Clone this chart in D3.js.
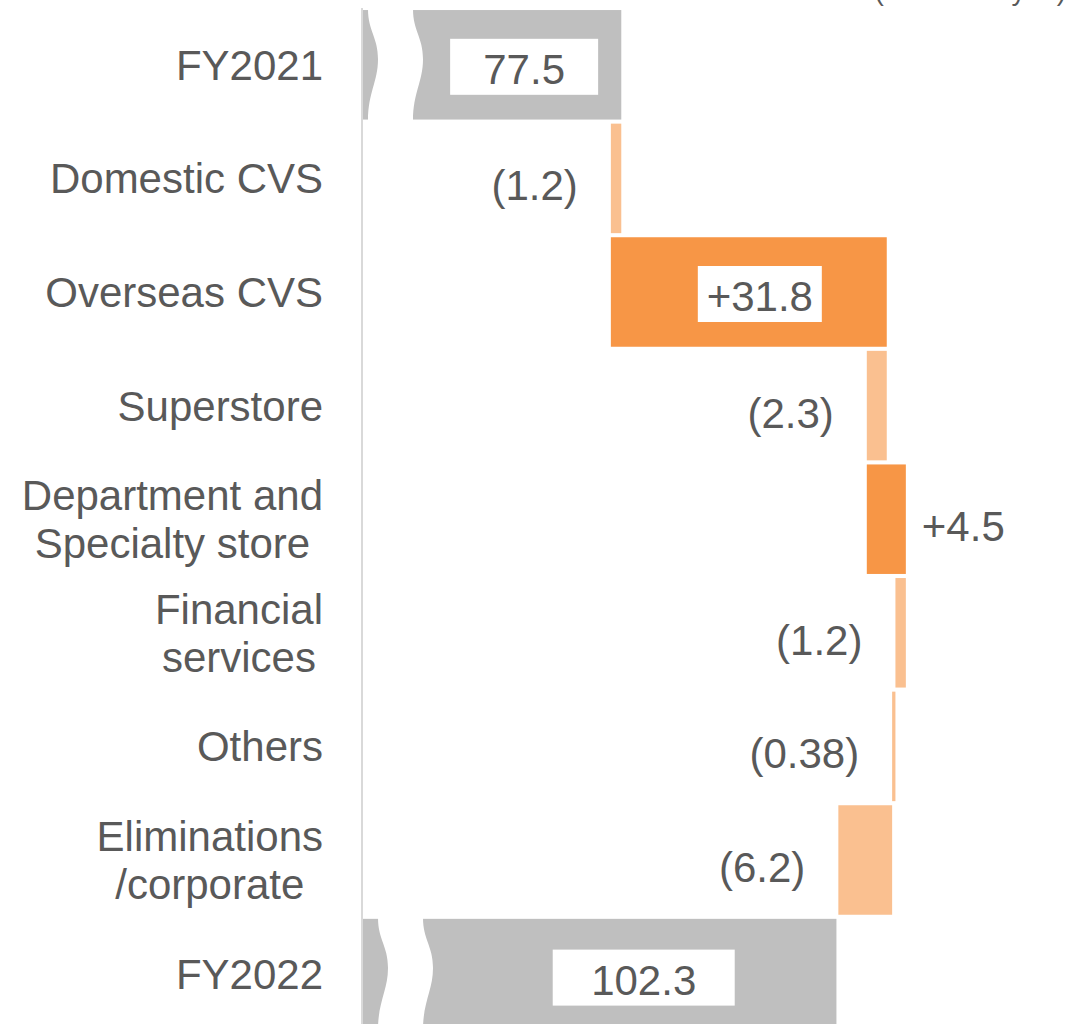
<!DOCTYPE html>
<html>
<head>
<meta charset="utf-8">
<script src="https://cdn.jsdelivr.net/npm/d3@7"></script>
<style>
  html, body { margin: 0; padding: 0; background: #fff; }
  svg { display: block; }
  text { font-family: "Liberation Sans", Arial, sans-serif; fill: #595959; }
</style>
</head>
<body>
<script>
const WIDTH  = 1074;
const HEIGHT = 1024;
const AXIS_X = 361;      // where the (broken) value axis sits
const LABEL_RIGHT = 323; // right edge of the category labels
const FONT = 42;

// Categories (multi-line labels split with \n)
const categories = ["FY2021", "Domestic CVS", "Overseas CVS", "Superstore",
                    "Department and\nSpecialty store", "Financial\nservices", "Others",
                    "Eliminations\n/corporate", "FY2022"];
// true = total bar, false = change
const isTotal = [true, false, false, false, false, false, false, false, true];
// Values in billions of yen
const values  = [77.5, -1.2, 31.8, -2.3, 4.5, -1.2, -0.38, -6.2, 102.3];
// Label text as printed
const valueLabels = ["77.5", "(1.2)", "+31.8", "(2.3)", "+4.5", "(1.2)", "(0.38)", "(6.2)", "102.3"];
const unitLabel = "(Billions of yen)";

// Colours
const GREY     = "#bfbfbf";
const ORANGE   = "#f79646";
const ORANGE_L = "#fac090";

// Labels drawn inside bars get a white box (width per bar index)
const insideBox = { 0: 148, 2: 124, 8: 182 };
const insideDx  = { 0: 2, 2: 11, 8: 9 };
const breakOffset = { 0: 7, 8: 17 };

const svg = d3.select("body").append("svg")
  .attr("width", WIDTH)
  .attr("height", HEIGHT);

// Scales - axis starts at 47.5 (broken)
const xScale = d3.scaleLinear().domain([47.5, 120]).range([AXIS_X, 990]);
const yScale = d3.scaleBand().domain(categories)
  .range([8, 8 + 9 * 113.6])
  .paddingInner(0.036)
  .paddingOuter(0.018);

// Build waterfall segments
let running = 0;
const bars = categories.map((c, i) => {
  let from, to;
  if (isTotal[i]) {
    from = xScale.domain()[0];
    to = values[i];
    running = values[i];
  } else {
    from = running;
    to = running + values[i];
    running = to;
  }
  return { cat: c, i, from, to, value: values[i], label: valueLabels[i], total: isTotal[i] };
});

const bw = yScale.bandwidth();

// Bars
svg.append("g").selectAll("rect")
  .data(bars)
  .join("rect")
    .attr("x", d => xScale(Math.min(d.from, d.to)))
    .attr("y", d => yScale(d.cat))
    .attr("width", d => Math.abs(xScale(d.to) - xScale(d.from)))
    .attr("height", bw)
    .attr("fill", d => d.total ? GREY : (d.value > 0 ? ORANGE : ORANGE_L));

// Axis break - white wavy strip across the total bars
function wave(x0, top, h) {
  const b = 10;
  return `M${x0},${top} C${x0},${top + h * 0.2} ${x0 + b},${top + h * 0.25} ${x0 + b},${top + h * 0.45}`
       + ` C${x0 + b},${top + h * 0.65} ${x0},${top + h * 0.75} ${x0},${top + h}`;
}
function breakPath(x0, top, h) {
  const w = 45, b = 10;
  return wave(x0, top, h)
    + ` L${x0 + w},${top + h}`
    + ` C${x0 + w},${top + h * 0.75} ${x0 + w + b},${top + h * 0.65} ${x0 + w + b},${top + h * 0.45}`
    + ` C${x0 + w + b},${top + h * 0.25} ${x0 + w},${top + h * 0.2} ${x0 + w},${top} Z`;
}
svg.append("g").selectAll("path")
  .data(bars.filter(d => d.total))
  .join("path")
    .attr("d", d => breakPath(AXIS_X + breakOffset[d.i], yScale(d.cat) - 1, bw + 2))
    .attr("fill", "#fff");

// Axis line
svg.append("line")
  .attr("x1", AXIS_X + 1).attr("x2", AXIS_X + 1)
  .attr("y1", 8).attr("y2", HEIGHT)
  .attr("stroke", "#d9d9d9")
  .attr("stroke-width", 2);

// Category labels, multi-line ones centred on each other and right aligned
const catG = svg.append("g");
categories.forEach(c => {
  const lines = c.split("\n");
  const cy = yScale(c) + bw / 2;
  const t = catG.append("text").style("font-size", FONT + "px").attr("text-anchor", "middle");
  lines.forEach((ln, k) => {
    t.append("tspan")
      .attr("y", cy + 15 + (k - (lines.length - 1) / 2) * 48)
      .text(ln);
  });
  let maxW = 0;
  t.selectAll("tspan").each(function () { maxW = Math.max(maxW, this.getComputedTextLength()); });
  t.selectAll("tspan").attr("x", LABEL_RIGHT - maxW / 2);
});

// Value labels
const valG = svg.append("g");
bars.forEach(d => {
  const cy = yScale(d.cat) + bw / 2;
  const x1 = xScale(Math.min(d.from, d.to));
  const x2 = xScale(Math.max(d.from, d.to));
  if (insideBox[d.i] !== undefined) {
    const start = d.total ? AXIS_X + breakOffset[d.i] + 55 : x1;
    const cx = (start + x2) / 2 + insideDx[d.i];
    const bh = 56;
    valG.append("rect")
      .attr("x", cx - insideBox[d.i] / 2)
      .attr("y", cy - bh / 2 + (d.i === 8 ? 4 : 2))
      .attr("width", insideBox[d.i])
      .attr("height", bh)
      .attr("fill", "#fff");
    valG.append("text")
      .attr("x", cx)
      .attr("y", cy + 17 + (d.i === 8 ? 4 : 2))
      .attr("text-anchor", "middle")
      .style("font-size", FONT + "px")
      .text(d.label);
  } else if (d.value < 0) {
    valG.append("text")
      .attr("x", x1 - 33)
      .attr("y", cy + 22)
      .attr("text-anchor", "end")
      .style("font-size", FONT + "px")
      .text(d.label);
  } else {
    valG.append("text")
      .attr("x", x2 + 16)
      .attr("y", cy + 22)
      .attr("text-anchor", "start")
      .style("font-size", FONT + "px")
      .text(d.label);
  }
});

// Unit label (mostly above the visible area)
svg.append("text")
  .attr("x", 1066)
  .attr("y", 0)
  .attr("text-anchor", "end")
  .style("font-size", "28px")
  .text(unitLabel);
</script>
</body>
</html>
